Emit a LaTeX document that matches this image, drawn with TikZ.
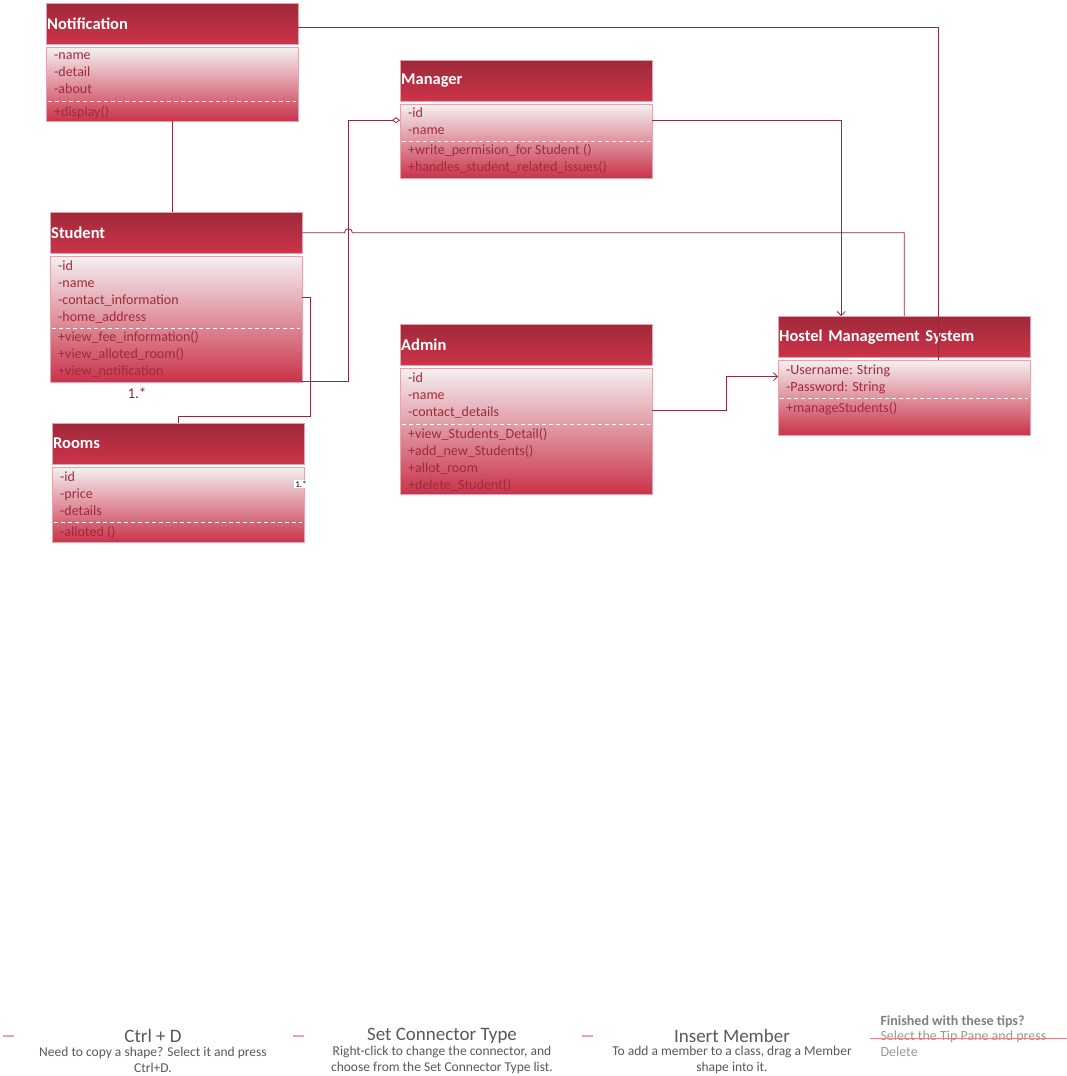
\documentclass[tikz,border=0pt]{standalone}
\usepackage{fontspec}
\setmainfont{Carlito}
\usetikzlibrary{arrows.meta}

\definecolor{headtop}{HTML}{A0283A}
\definecolor{headbot}{HTML}{CC3449}
\definecolor{bodytop}{HTML}{F4F0F1}
\definecolor{bodybot}{HTML}{CA3349}
\definecolor{frame}{HTML}{E6A3AD}
\definecolor{memberred}{HTML}{A02A3D}
\definecolor{linkred}{HTML}{8E2C3C}
\definecolor{tipgray}{HTML}{595959}

\tikzset{
  classhead/.style={anchor=north west, inner sep=0pt, inner xsep=1pt, text width=250pt, minimum height=41pt, top color=headtop, bottom color=headbot, draw=frame, text=white, align=left, font=\fontsize{16.5}{18}\selectfont\bfseries},
  classbody/.style={anchor=north west, inner sep=0pt, minimum width=252pt, top color=bodytop, bottom color=bodybot, draw=frame},
  members/.style={anchor=north west, inner sep=0pt, align=left, text=memberred, font=\fontsize{14}{17}\selectfont, execute at begin node=\strut},
  sepline/.style={white, line width=1pt, dash pattern=on 4pt off 3pt},
  link/.style={draw=linkred, line width=0.8pt},
  tipmark/.style={draw=frame, line width=1.5pt},
  tiptitle/.style={inner sep=0pt, text=tipgray, font=\fontsize{19}{20}\selectfont},
  tiptext/.style={inner sep=0pt, text=tipgray, align=center, font=\fontsize{13.5}{16}\selectfont},
}

\begin{document}
\begin{tikzpicture}[x=1pt, y=-1pt]
\useasboundingbox[fill=white] (0,0) rectangle (1067,1076);

% classes
\node[classhead] (notification) at (46,3) {Notification};
\node[classbody, minimum height=74pt] (notificationbody) at (46,47) {};
\node[members] (notificationattr) at (54,52) {-name\\-detail\\-about};
\draw[sepline] (48,101) -- (296,101);
\node[members] (notificationops) at (54,104) {+display()};

\node[classhead] (manager) at (400,60) {Manager};
\node[classbody, minimum height=74pt] (managerbody) at (400,104) {};
\node[members] (managerattr) at (408,108) {-id\\-name};
\draw[sepline] (402,141) -- (650,141);
\node[members] (managerops) at (408,144) {+write\_permision\_for Student ()\\+handles\_student\_related\_issues()};

\node[classhead] (student) at (50,212) {Student};
\node[classbody, minimum height=126pt] (studentbody) at (50,256) {};
\node[members] (studentattr) at (58,261) {-id\\-name\\-contact\_information\\-home\_address};
\draw[sepline] (52,328) -- (300,328);
\node[members] (studentops) at (58,331) {+view\_fee\_information()\\+view\_alloted\_room()\\+view\_notification};

\node[classhead] (rooms) at (52,423) {Rooms};
\node[classbody, minimum height=75pt] (roomsbody) at (52,467) {};
\node[members] (roomsattr) at (60,472) {-id\\-price\\-details};
\draw[sepline] (54,522) -- (302,522);
\node[members] (roomsops) at (60,524) {-alloted ()};

\node[classhead] (admin) at (400,324) {Admin};
\node[classbody, minimum height=126pt] (adminbody) at (400,368) {};
\node[members] (adminattr) at (408,373) {-id\\-name\\-contact\_details};
\draw[sepline] (402,424) -- (650,424);
\node[members] (adminops) at (408,428) {+view\_Students\_Detail()\\+add\_new\_Students()\\+allot\_room\\+delete\_Student()};

\node[classhead] (hms) at (778,316) {Hostel Management System};
\node[classbody, minimum height=75pt] (hmsbody) at (778,360) {};
\node[members] (hmsattr) at (786,365) {-Username: String\\-Password: String};
\draw[sepline] (780,398) -- (1028,398);
\node[members] (hmsops) at (786,400) {+manageStudents()};

% connectors
\draw[link] (notificationbody.south) -- (notificationbody.south |- student.north);
\draw[link] ([yshift=-4pt]notification.east) -| ([xshift=34pt]hmsbody.north);
\draw[link, -{Straight Barb[length=4pt, width=8pt]}] ([yshift=21pt]managerbody.east) -| ([xshift=-63pt]hms.north);
\draw[link] (student.east) -- ++(42,0) arc[start angle=180, end angle=360, radius=4] -| (hms.north);
\draw[link, -{Diamond[open, length=8pt, width=6pt]}] ([yshift=1pt]studentbody.south east) -- ++(46,0) |- ([yshift=21pt]managerbody.west);
\draw[link] ([yshift=22pt]studentbody.east) -- ++(8,0) -- ++(0,119) -| (rooms.north);
\draw[link, -{Straight Barb[length=4pt, width=8pt]}] ([yshift=21pt]adminbody.east) -- ++(74,0) |- ([yshift=21pt]hmsbody.west);

\node[text=linkred, font=\fontsize{15}{18}\selectfont] (roomsmult) at (137,393) {1.*};
\node[fill=white, inner sep=1pt, font=\fontsize{9}{10}\selectfont] (studentmult) at (301,484) {1.*};

% tips
\draw[tipmark] (3,1036) -- (14,1036);
\node[tiptitle] (copytitle) at (153,1036) {Ctrl + D};
\node[tiptext] (copytext) at (153,1060) {Need to copy a shape? Select it and press\\Ctrl+D.};

\draw[tipmark] (293,1036) -- (304,1036);
\node[tiptitle] (connectortitle) at (442,1036) {Set Connector Type};
\node[tiptext] (connectortext) at (442,1060) {Right-click to change the connector, and\\choose from the Set Connector Type list.};

\draw[tipmark] (582,1036) -- (593,1036);
\node[tiptitle] (membertitle) at (732,1036) {Insert Member};
\node[tiptext] (membertext) at (732,1060) {To add a member to a class, drag a Member\\shape into it.};

\node[anchor=west, text=gray, font=\fontsize{14}{15}\selectfont\bfseries] (finished) at (877,1022) {Finished with these tips?};
\node[anchor=west, text=gray!80, font=\fontsize{14}{15}\selectfont] (tippane) at (877,1037) {Select the Tip Pane and press};
\draw[draw=frame!80!red, line width=1pt] (870,1038) -- (1067,1038);
\node[anchor=west, text=gray!80, font=\fontsize{14}{15}\selectfont] (deletehint) at (877,1052) {Delete};
\end{tikzpicture}
\end{document}
